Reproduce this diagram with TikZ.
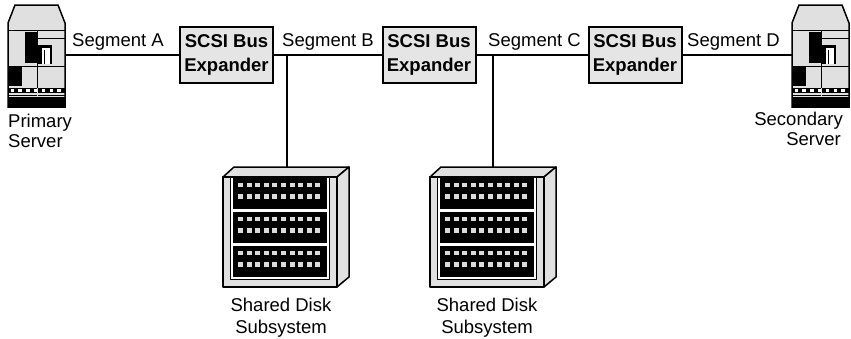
\documentclass[tikz,border=0pt]{standalone}
\usepackage{fontspec}
\setmainfont{Liberation Sans}
\definecolor{boxgray}{gray}{0.9}
\definecolor{srvgray}{gray}{0.88}
\definecolor{sqgray}{gray}{0.86}
\newcommand\drawserver[2]{%
  \begin{scope}[shift={(#1,#2)}]
    \fill[srvgray] (7,0) -- (50,0) -- (57,18) -- (57,102) -- (0,102) -- (0,18) -- cycle;
    \fill (17,27) rectangle (29,58);
    \fill (30,40) rectangle (44,59);
    \fill[white] (34,43) rectangle (42,59);
    \draw[line width=1pt] (36,45) -- (36,59);
    \fill (0,62) rectangle (14,81);
    \fill (0,83) rectangle (57,88);
    \foreach \i in {0,...,6} \fill[white] ({2.5+7.8*\i},84) rectangle ++(3.5,3);
    \draw[line width=0.8pt] (0,90) -- (57,90);
    \fill (0,92) rectangle (57,102);
    \draw[line width=1pt] (0,25) -- (57,25);
    \draw[line width=1pt] (29,33) -- (57,33);
    \draw[line width=1pt] (0,61) -- (57,61);
    \draw[line width=1pt] (29,25) -- (29,83);
    \draw[line width=1pt, srvgray] (29,83) -- (29,92);
    \draw[line width=1.5pt, line join=miter] (7,0) -- (50,0) -- (57,18) -- (57,102) -- (0,102) -- (0,18) -- cycle;
  \end{scope}}
\newcommand\drawdisk[2]{%
  \begin{scope}[shift={(#1,#2)}, line width=1.5pt, line join=round]
    \filldraw[fill=srvgray] (0,0) -- (11,-10) -- (126,-10) -- (114,0) -- cycle;
    \filldraw[fill=srvgray] (114,0) -- (126,-10) -- (126,100) -- (114,110) -- cycle;
    \filldraw[fill=srvgray] (0,0) rectangle (114,110);
    \filldraw[fill=white, line width=1pt] (7,0) rectangle (106.5,102);
    \foreach \t in {1,35,69} {
      \fill (10,\t) rectangle (103.5,\t+31);
      \foreach \r in {4.5,16} {
        \foreach \i in {0,...,9} \fill[sqgray] ({15+8.6*\i},\t+\r) rectangle ++(5,4.5);
      }
    }
  \end{scope}}
\begin{document}
\begin{tikzpicture}[x=1pt,y=-1pt,
  lbl/.style={font=\fontsize{18.5}{21}\selectfont, inner sep=0pt},
  expbox/.style={draw, line width=2pt, fill=boxgray, minimum width=93pt, minimum height=56pt,
    inner sep=0pt, align=center, font=\fontsize{18.5}{23.3}\selectfont\bfseries},
  wire/.style={line width=1.5pt},
  anchorbox/.style={inner sep=0pt, outer sep=0pt}]
\fill[white] (0,0) rectangle (851,338);
\useasboundingbox (0,0) rectangle (851,338);

% invisible anchor nodes for the icons
\node[anchorbox, minimum width=57pt, minimum height=102pt] (ps) at (36.5,56) {};
\node[anchorbox, minimum width=57pt, minimum height=102pt] (ss) at (820.5,56) {};
\node[anchorbox, minimum width=126pt, minimum height=120pt] (d1) at (287,227) {};
\node[anchorbox, minimum width=126pt, minimum height=120pt] (d2) at (493,227) {};

% expanders
\node[expbox] (e1) at (226.5,55) {SCSI Bus\\Expander};
\node[expbox] (e2) at (429,55) {SCSI Bus\\Expander};
\node[expbox] (e3) at (635,55) {SCSI Bus\\Expander};

% connectors
\draw[wire] (ps.east |- e1.west) -- (e1.west);
\draw[wire] (e1.east) -- (e2.west);
\draw[wire] (e2.east) -- (e3.west);
\draw[wire] (e3.east) -- (ss.west |- e3.east);
\draw[wire] (d1.north |- e1.east) -- (d1.north);
\draw[wire] (d2.north |- e2.east) -- (d2.north);

% icons
\drawserver{8}{5}
\drawserver{792}{5}
\drawdisk{223}{177}
\drawdisk{430}{177}

% labels
\node[lbl, anchor=base west] (sa) at (72,46) {Segment A};
\node[lbl, anchor=base west] (sb) at (282,46) {Segment B};
\node[lbl, anchor=base west] (sc) at (488,46) {Segment C};
\node[lbl, anchor=base west] (sd) at (687,46) {Segment D};
\node[lbl, anchor=base west] (p1) at (8,127) {Primary};
\node[lbl, anchor=base west] (p2) at (8,147) {Server};
\node[lbl, anchor=base east] (q1) at (843,125) {Secondary};
\node[lbl, anchor=base east] (q2) at (841,145) {Server};
\node[lbl, anchor=base] (k1) at (281,311) {Shared Disk};
\node[lbl, anchor=base] (k2) at (281,333) {Subsystem};
\node[lbl, anchor=base] (m1) at (487,311) {Shared Disk};
\node[lbl, anchor=base] (m2) at (487,333) {Subsystem};
\end{tikzpicture}
\end{document}
